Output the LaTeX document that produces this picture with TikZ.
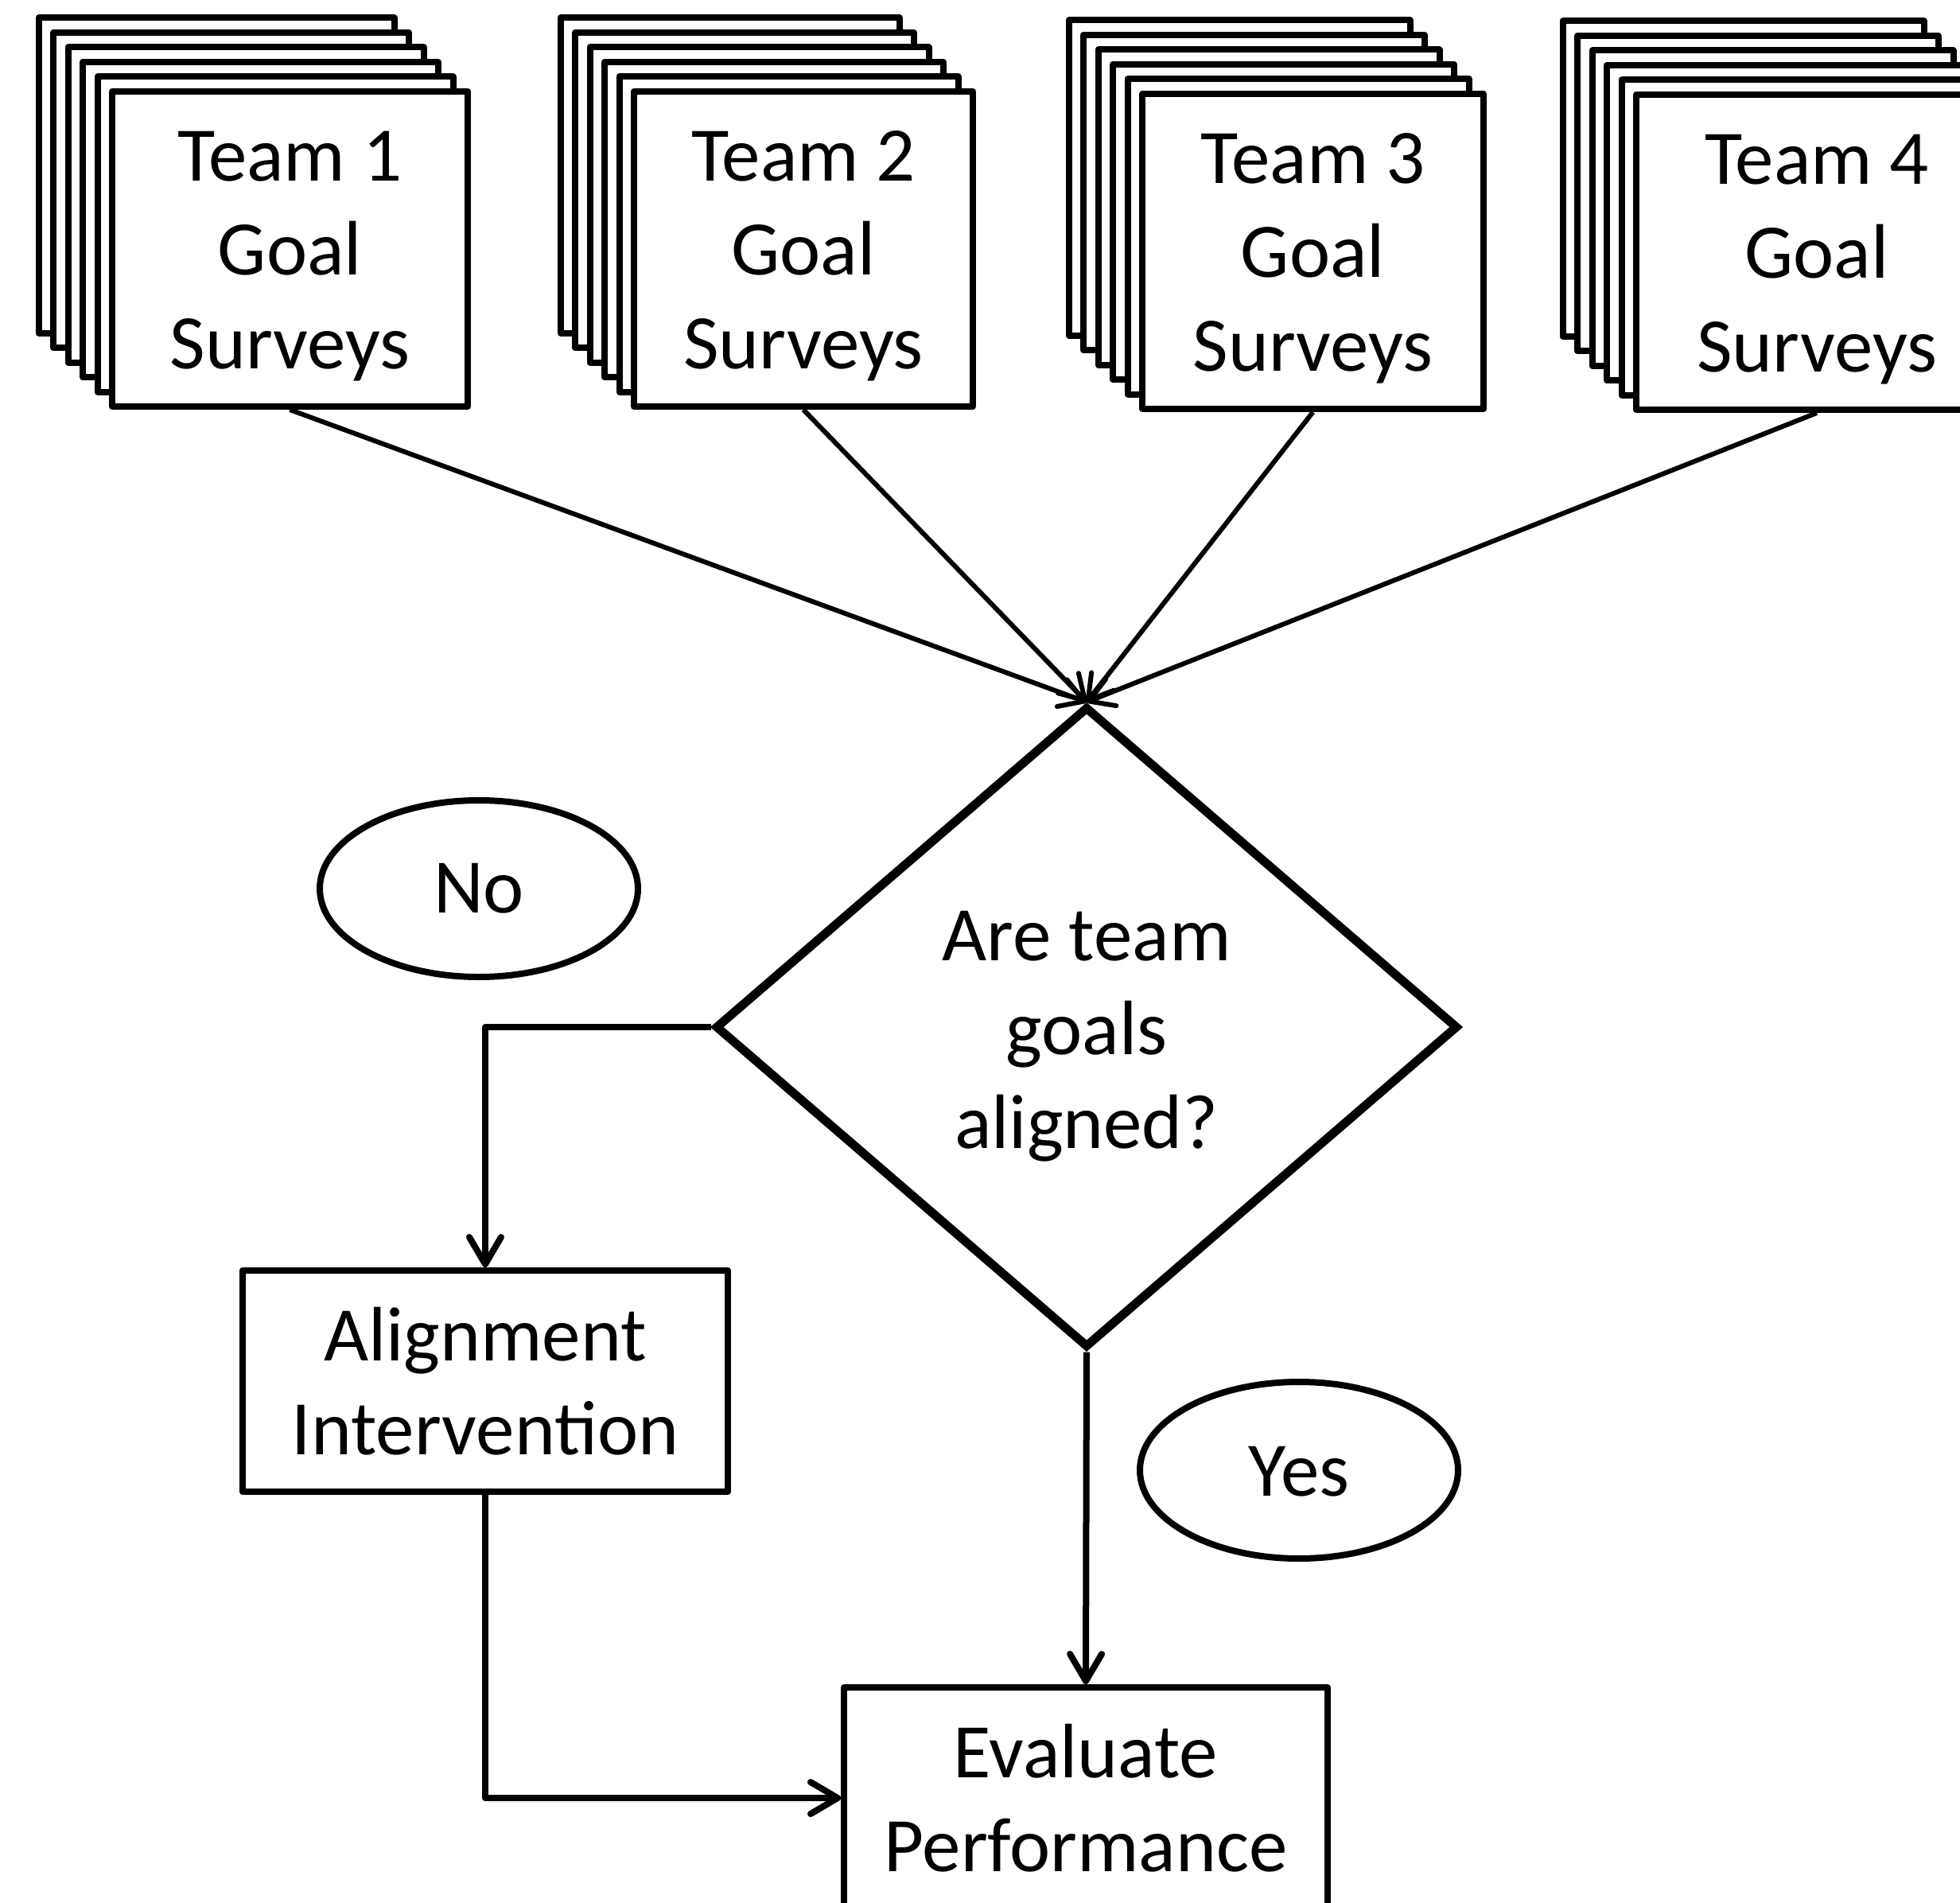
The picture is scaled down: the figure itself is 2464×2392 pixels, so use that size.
\documentclass[tikz,border=0pt]{standalone}
\usepackage{fontspec}
\setmainfont{Carlito}
\usetikzlibrary{arrows.meta,shapes.geometric}
\begin{document}
\begin{tikzpicture}[x=0.5pt,y=-0.5pt,
  txt/.style={font=\fontsize{48.5}{59}\selectfont, align=center},
  cardline/.style={draw, fill=white, line width=4pt, line join=round},
  card/.style={cardline, rectangle, txt, inner sep=0pt, minimum height=198pt},
  procbox/.style={cardline, rectangle, txt, inner sep=0pt},
  decision/.style={draw, diamond, line width=5.5pt, line join=miter, txt, inner sep=0pt, minimum width=467pt, minimum height=403pt},
  oval/.style={draw, ellipse, line width=4pt, txt, inner sep=0pt, minimum width=200pt, minimum height=111pt},
  conn/.style={line width=4pt, line join=round, -{Straight Barb[round,length=17pt,width=20pt]}},
  feed/.style={line width=3pt, -{Straight Barb[round,length=15pt,width=18pt]}}
]
\useasboundingbox (0,0) rectangle (2464,2392);

\foreach \fl/\ft/\w/\n in {141/115/447/1, 797/115/426/2, 1436/118/429/3, 2057/119/454/4} {
  \foreach \k in {5,4,3,2,1} {
    \draw[cardline] ({\fl-\k*18.5},{\ft-\k*18.5}) rectangle ++(\w,396);
  }
  \node[card, minimum width={\w*0.5pt}] (t\n) at ({\fl+\w/2},{\ft+198}) {\rule{0pt}{40pt}Team \n\\Goal\\Surveys};
}

\node[decision] (d) at (1366,1291) {\rule{0pt}{43pt}Are team\\goals\\aligned?};

\node[oval] (no) at (602,1117) {No};
\node[oval] (yes) at (1633,1848) {\rule{0pt}{33pt}Yes};

\node[procbox, minimum width=305pt, minimum height=139pt] (align) at (610,1736) {Alignment\\Intervention};
\node[procbox, minimum width=304pt, minimum height=139pt] (eval) at (1365,2260) {Evaluate\\Performance};

\foreach \n in {1,2,3,4} {
  \draw[feed] (t\n.south) -- (d.north);
}
\draw[conn] (d.west) -| (align.north);
\draw[conn] (d.south) -- (eval.north);
\draw[conn] (align.south) |- (eval.west);
\end{tikzpicture}
\end{document}
